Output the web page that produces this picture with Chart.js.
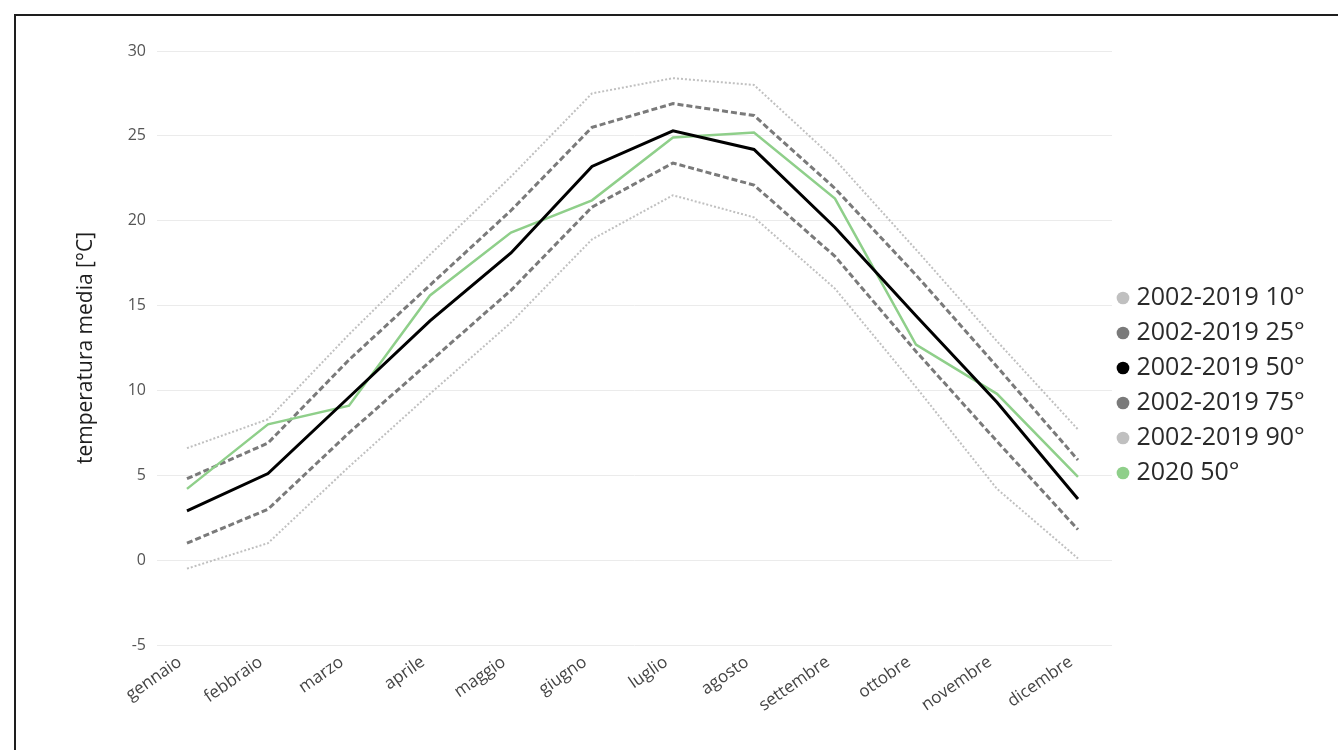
<!DOCTYPE html>
<html lang="it">
<head>
<meta charset="utf-8">
<title>Temperatura media mensile</title>
<script src="https://cdn.jsdelivr.net/npm/chart.js@4.4.1/dist/chart.umd.min.js"></script>
<style>
  html, body { margin: 0; padding: 0; background: #fff; overflow: hidden; }
  #wrap { position: relative; width: 1338px; height: 750px; }
  #frame {
    position: absolute; left: 14px; top: 14px; width: 2000px; height: 2000px;
    border-top: 2px solid #1e1e1e; border-left: 2px solid #1e1e1e;
    pointer-events: none;
  }
  canvas { position: absolute; left: 0; top: 0; }
</style>
</head>
<body>
<div id="wrap">
  <canvas id="chart" width="1338" height="750"></canvas>
  <div id="frame"></div>
</div>
<script>
// Mesi sull'asse x
const months = ['gennaio', 'febbraio', 'marzo', 'aprile', 'maggio', 'giugno',
                'luglio', 'agosto', 'settembre', 'ottobre', 'novembre', 'dicembre'];

// Percentili della temperatura media mensile 2002-2019 [°C]
const p10 = [-0.5, 1.0, 5.5, 9.8, 14.0, 18.9, 21.5, 20.2, 16.0, 10.2, 4.2, 0.1];
const p25 = [1.0, 3.0, 7.5, 11.7, 15.9, 20.8, 23.4, 22.1, 17.9, 12.3, 7.0, 1.8];
const p50 = [2.9, 5.1, 9.6, 14.1, 18.1, 23.2, 25.3, 24.2, 19.6, 14.4, 9.3, 3.6];
const p75 = [4.8, 6.9, 11.8, 16.2, 20.6, 25.5, 26.9, 26.2, 21.9, 16.8, 11.4, 5.9];
const p90 = [6.6, 8.3, 13.3, 18.0, 22.6, 27.5, 28.4, 28.0, 23.6, 18.3, 12.9, 7.7];

// Mediana 2020 [°C]
const y2020 = [4.2, 8.0, 9.1, 15.6, 19.3, 21.2, 24.9, 25.2, 21.3, 12.7, 9.8, 4.9];

// Etichette della legenda e dell'asse y
const seriesNames = ['2002-2019 10°', '2002-2019 25°', '2002-2019 50°',
                     '2002-2019 75°', '2002-2019 90°', '2020 50°'];
const yTicks = [-5, 0, 5, 10, 15, 20, 25, 30];
const yTitle = 'temperatura media [°C]';

const FONT = "'Open Sans', 'Noto Sans', sans-serif";
const LIGHT = '#c0c0c0';
const DARK = '#7a7a7a';
const GREEN = '#8fcf8a';

const toPoints = vals => vals.map((v, i) => ({ x: i, y: v }));

// Larghezza della legenda, così il riquadro del grafico termina al bordo desiderato
const legendFontSize = 25;
const legendPad = 10;
const legendBox = 2;
const measure = document.createElement('canvas').getContext('2d');
measure.font = legendFontSize + 'px ' + FONT;
const textW = Math.max(...seriesNames.map(s => measure.measureText(s).width));
const legendWidth = legendPad + legendBox + legendFontSize / 2 + textW + 10;
const plotRight = 1112;
const padRight = Math.max(0, 1338 - plotRight - legendWidth);

const padLeft = 73, padTop = 51, padBottom = 30;
const plotLeft = 157, plotBottom = 645;

function line(label, data, color, width, dash, order) {
  return {
    label, data: toPoints(data),
    borderColor: color, backgroundColor: color,
    borderWidth: width, borderDash: dash,
    pointRadius: 0, pointHoverRadius: 0, tension: 0,
    fill: false, order
  };
}

new Chart(document.getElementById('chart'), {
  type: 'line',
  data: {
    datasets: [
      line(seriesNames[0], p10, LIGHT, 2, [2, 2], 3),
      line(seriesNames[1], p25, DARK, 3, [6, 3], 2),
      line(seriesNames[2], p50, '#000000', 3, [], 0),
      line(seriesNames[3], p75, DARK, 3, [6, 3], 2),
      line(seriesNames[4], p90, LIGHT, 2, [2, 2], 3),
      line(seriesNames[5], y2020, GREEN, 2.5, [], 1)
    ]
  },
  options: {
    responsive: false,
    animation: false,
    devicePixelRatio: 1,
    layout: { padding: { left: padLeft, top: padTop, bottom: padBottom, right: padRight } },
    plugins: {
      tooltip: { enabled: false },
      legend: {
        position: 'right',
        align: 'center',
        labels: {
          usePointStyle: true,
          pointStyle: 'circle',
          boxWidth: legendBox,
          boxHeight: 9,
          padding: legendPad,
          color: '#2a2a2a',
          font: { family: FONT, size: legendFontSize },
          generateLabels(chart) {
            const base = Chart.defaults.plugins.legend.labels.generateLabels(chart);
            return base
              .sort((a, b) => a.datasetIndex - b.datasetIndex)
              .map(item => {
                const ds = chart.data.datasets[item.datasetIndex];
                return Object.assign({}, item, {
                  fillStyle: ds.borderColor,
                  strokeStyle: ds.borderColor,
                  lineWidth: 0,
                  lineDash: []
                });
              });
          }
        }
      }
    },
    scales: {
      x: {
        type: 'linear',
        min: -0.37,
        max: 11.42,
        grid: { display: false, drawTicks: false },
        border: { display: false },
        afterFit(scale) { scale.height = 750 - padBottom - plotBottom; },
        afterBuildTicks(scale) { scale.ticks = months.map((_, i) => ({ value: i })); },
        ticks: {
          autoSkip: false,
          minRotation: 35,
          maxRotation: 35,
          padding: 7,
          labelOffset: -7,
          color: '#444',
          font: { family: FONT, size: 17 },
          callback: v => months[v]
        }
      },
      y: {
        min: -5,
        max: 30,
        grid: { color: '#ebebeb', lineWidth: 1, drawTicks: false },
        border: { display: false },
        afterFit(scale) { scale.width = plotLeft - padLeft; },
        afterBuildTicks(scale) { scale.ticks = yTicks.map(v => ({ value: v })); },
        ticks: {
          padding: 11,
          color: '#555',
          font: { family: FONT, size: 16 }
        },
        title: {
          display: true,
          text: yTitle,
          color: '#1e1e1e',
          padding: 0,
          font: { family: FONT, size: 21 }
        }
      }
    }
  }
});
</script>
</body>
</html>
